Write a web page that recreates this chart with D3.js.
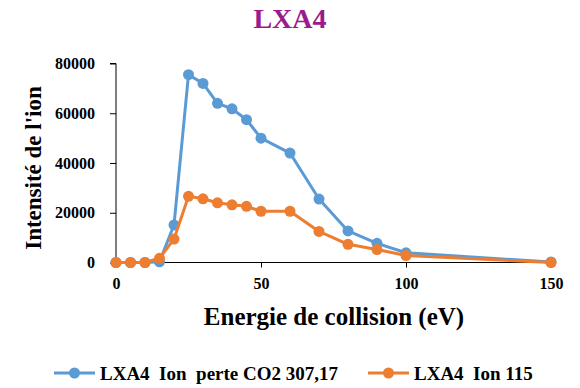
<!DOCTYPE html>
<html>
<head>
<meta charset="utf-8">
<script src="https://cdn.jsdelivr.net/npm/d3@7"></script>
<style>
  html, body { margin: 0; padding: 0; background: #fff; }
  svg { display: block; }
  svg text { font-family: "Liberation Serif", "Times New Roman", serif !important; font-weight: bold !important; }
</style>
</head>
<body>
<svg id="chart" width="580" height="388"></svg>
<script>
const energies = [0, 5, 10, 15, 20, 25, 30, 35, 40, 45, 50, 60, 70, 80, 90, 100, 150];
const seriesBlue = [0, 0, 0, 300, 15100, 75500, 72000, 64000, 61800, 57400, 50000, 44000, 25500, 12700, 7700, 3900, 200];
const seriesOrange = [0, 0, 0, 1700, 9400, 26600, 25600, 24000, 23200, 22600, 20600, 20600, 12500, 7300, 5200, 2800, 0];
const seriesNames = ["LXA4  Ion  perte CO2 307,17", "LXA4  Ion 115"];
const xTicks = [0, 50, 100, 150];
const yTicks = [0, 20000, 40000, 60000, 80000];
const titleText = "LXA4";
const xTitle = "Energie de collision (eV)";
const yTitle = "Intensité de l'ion";

const colors = ["#5B9BD5", "#ED7D31"];
const FONT = '"Liberation Serif", "Times New Roman", serif';
const svg = d3.select("#chart");

const x = d3.scaleLinear().domain([0, 150]).range([116, 551]);
const y = d3.scaleLinear().domain([0, 80000]).range([262.5, 63.5]);

function styleText(sel, size) {
  sel.style("font-family", FONT).style("font-weight", "bold").style("font-size", size + "px").attr("fill", "#000");
}

// title
svg.append("text").attr("x", 290).attr("y", 28).attr("text-anchor", "middle")
  .style("font-family", FONT).style("font-weight", "bold").style("font-size", "28px")
  .attr("fill", "#9B1B8E").text(titleText);

// axes
const yAxis = d3.axisLeft(y).tickValues(yTicks).tickSize(6).tickPadding(15).tickFormat(d3.format("d"));
const gy = svg.append("g").attr("transform", `translate(${x(0)},0)`).call(yAxis);
gy.attr("font-family", null).attr("font-size", null);
gy.select(".domain").attr("stroke", "#000").attr("d", `M-6,${y(80000)}H0V${y(0)}`);
gy.selectAll(".tick line").attr("stroke", "#000");
styleText(gy.selectAll("text"), 16);

const xAxis = d3.axisBottom(x).tickValues(xTicks).tickSize(5).tickPadding(10).tickFormat(d3.format("d"));
const gx = svg.append("g").attr("transform", `translate(0,${y(0)})`).call(xAxis);
gx.attr("font-family", null).attr("font-size", null);
gx.select(".domain").attr("stroke", "#000").attr("d", `M${x(0)},0H${x(150)}`);
gx.selectAll(".tick line").attr("stroke", "#000");
styleText(gx.selectAll("text"), 16);

// axis titles
styleText(svg.append("text").attr("x", 334).attr("y", 325).attr("text-anchor", "middle").text(xTitle), 25);
styleText(svg.append("text").attr("transform", `translate(41,168) rotate(-90)`).attr("text-anchor", "middle").text(yTitle), 23);

// series
const allSeries = [seriesBlue, seriesOrange];
const line = d3.line().x((d, i) => x(energies[i])).y(d => y(d));
allSeries.forEach((s, k) => {
  const g = svg.append("g");
  g.append("path").datum(s).attr("d", line).attr("fill", "none")
    .attr("stroke", colors[k]).attr("stroke-width", 3).attr("stroke-linejoin", "round");
  g.selectAll("circle").data(s).enter().append("circle")
    .attr("cx", (d, i) => x(energies[i])).attr("cy", d => y(d)).attr("r", 5.5)
    .attr("fill", colors[k]);
});

// legend
const legendItems = [{ x: 54, name: seriesNames[0] }, { x: 368, name: seriesNames[1] }];
legendItems.forEach((it, k) => {
  const g = svg.append("g").attr("transform", `translate(${it.x},373)`);
  g.append("line").attr("x1", 0).attr("x2", 41).attr("y1", 0).attr("y2", 0)
    .attr("stroke", colors[k]).attr("stroke-width", 3);
  g.append("circle").attr("cx", 20.5).attr("cy", 0).attr("r", 5.5).attr("fill", colors[k]);
  styleText(g.append("text").attr("x", 46).attr("y", 6.5).attr("xml:space", "preserve")
    .style("white-space", "pre").text(it.name), 19);
});
</script>
</body>
</html>
